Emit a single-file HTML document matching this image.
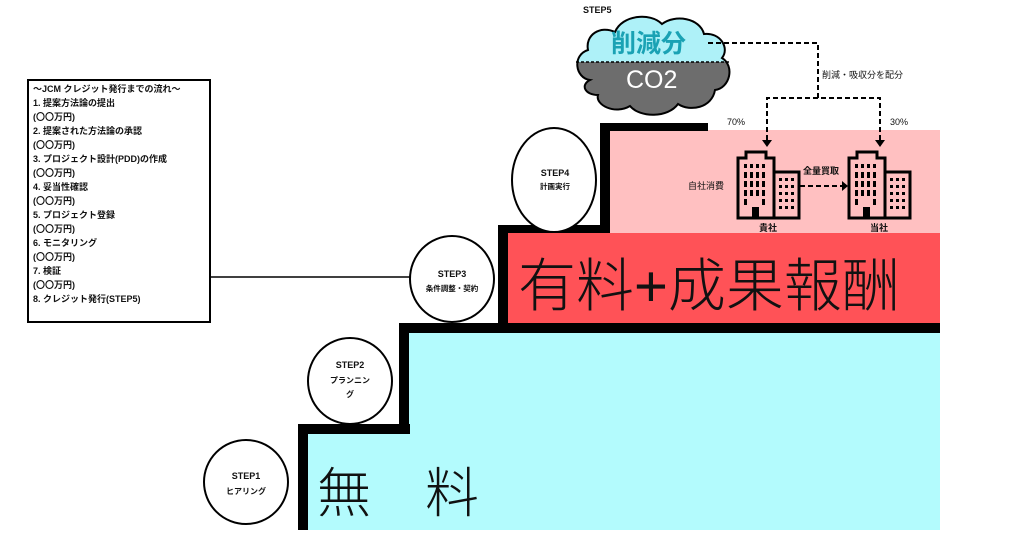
<!DOCTYPE html>
<html><head><meta charset="utf-8"><style>
body{margin:0;background:#fff}
svg{display:block}
text{font-family:"Liberation Sans","Noto Sans CJK JP",sans-serif}
</style></head><body>
<svg width="1024" height="539" viewBox="0 0 1024 539" xmlns="http://www.w3.org/2000/svg">
<defs>
<g id="bld">
 <path d="M0,6 h8 v-6 h20 v6 h8 v60 h-36 z" fill="none" stroke="#000" stroke-width="3"/>
 <rect x="36" y="20" width="25" height="46" fill="none" stroke="#000" stroke-width="3"/>
 <g fill="#000">
  <rect x="6" y="12" width="3" height="4"/><rect x="12" y="12" width="3" height="4"/><rect x="18" y="12" width="3" height="4"/><rect x="24" y="12" width="3" height="4"/>
  <rect x="6" y="20" width="3" height="6"/><rect x="12" y="20" width="3" height="6"/><rect x="18" y="20" width="3" height="6"/><rect x="24" y="20" width="3" height="6"/>
  <rect x="6" y="29" width="3" height="6"/><rect x="12" y="29" width="3" height="6"/><rect x="18" y="29" width="3" height="6"/><rect x="24" y="29" width="3" height="6"/>
  <rect x="6" y="38" width="3" height="6"/><rect x="12" y="38" width="3" height="6"/><rect x="18" y="38" width="3" height="6"/><rect x="24" y="38" width="3" height="6"/>
  <rect x="6" y="47" width="3" height="6"/><rect x="24" y="47" width="3" height="6"/>
  <rect x="14" y="55" width="7" height="11"/>
  <rect x="41" y="26" width="3" height="3"/><rect x="47" y="26" width="3" height="3"/><rect x="53" y="26" width="3" height="3"/>
  <rect x="41" y="33" width="3" height="3"/><rect x="47" y="33" width="3" height="3"/><rect x="53" y="33" width="3" height="3"/>
  <rect x="41" y="40" width="3" height="3"/><rect x="47" y="40" width="3" height="3"/><rect x="53" y="40" width="3" height="3"/>
  <rect x="41" y="47" width="3" height="3"/><rect x="47" y="47" width="3" height="3"/><rect x="53" y="47" width="3" height="3"/>
  <rect x="41" y="54" width="3" height="3"/><rect x="47" y="54" width="3" height="3"/><rect x="53" y="54" width="3" height="3"/>
 </g>
</g>
</defs>
<!-- fills -->
<rect x="409" y="333" width="531" height="197" fill="#b3fbfd"/>
<rect x="308" y="434" width="101" height="96" fill="#b3fbfd"/>
<rect x="508" y="233" width="432" height="91" fill="#ff5257"/>
<rect x="610" y="130" width="330" height="103" fill="#ffc0c1"/>
<!-- stairs -->
<g fill="#000">
<rect x="298" y="424" width="10" height="106"/>
<rect x="298" y="424" width="112" height="10"/>
<rect x="399" y="323" width="10" height="111"/>
<rect x="399" y="323" width="541" height="10"/>
<rect x="498" y="225" width="10" height="108"/>
<rect x="498" y="225" width="112" height="8"/>
<rect x="600" y="123" width="10" height="110"/>
<rect x="600" y="123" width="108" height="8"/>
</g>
<!-- big labels -->
<text x="518" y="306" font-size="58" fill="#111" font-family="'Noto Sans CJK JP',sans-serif" font-weight="300">有料+成果報酬</text>
<text x="317" y="512" font-size="54" fill="#111" font-family="'Noto Sans CJK JP',sans-serif" font-weight="300">無　料</text>
<!-- text box -->
<rect x="28" y="80" width="182" height="242" fill="#fff" stroke="#000" stroke-width="2"/>
<line x1="210" y1="277" x2="410" y2="277" stroke="#000" stroke-width="1.5"/>
<g font-size="9" font-weight="bold" fill="#111">
<text x="33" y="92">～JCM クレジット発行までの流れ～</text>
<text x="33" y="106">1. 提案方法論の提出</text>
<text x="33" y="120">(〇〇万円)</text>
<text x="33" y="134">2. 提案された方法論の承認</text>
<text x="33" y="148">(〇〇万円)</text>
<text x="33" y="162">3. プロジェクト設計(PDD)の作成</text>
<text x="33" y="176">(〇〇万円)</text>
<text x="33" y="190">4. 妥当性確認</text>
<text x="33" y="204">(〇〇万円)</text>
<text x="33" y="218">5. プロジェクト登録</text>
<text x="33" y="232">(〇〇万円)</text>
<text x="33" y="246">6. モニタリング</text>
<text x="33" y="260">(〇〇万円)</text>
<text x="33" y="274">7. 検証</text>
<text x="33" y="288">(〇〇万円)</text>
<text x="33" y="302">8. クレジット発行(STEP5)</text>
</g>
<!-- circles -->
<g fill="#fff" stroke="#000" stroke-width="2">
<ellipse cx="246" cy="482" rx="42" ry="42"/>
<ellipse cx="350" cy="381" rx="42" ry="43"/>
<ellipse cx="452" cy="279" rx="42" ry="43"/>
<ellipse cx="554" cy="180" rx="42" ry="52"/>
</g>
<g font-size="9" font-weight="bold" fill="#111" text-anchor="middle">
<text x="246" y="479">STEP1</text><text x="246" y="494" font-size="8">ヒアリング</text>
<text x="350" y="368">STEP2</text><text x="350" y="383" font-size="8">プランニン</text><text x="350" y="397" font-size="8">グ</text>
<text x="452" y="277">STEP3</text><text x="452" y="291" font-size="7.5">条件調整・契約</text>
<text x="555" y="176">STEP4</text><text x="555" y="189" font-size="7.5">計画実行</text>
</g>
<!-- cloud -->
<defs><clipPath id="cl"><path d="M590,80 C575,78 572,55 588,50 C585,35 600,25 615,32 C622,15 650,12 662,24 C675,14 700,18 704,34 C720,32 730,48 722,58 C735,66 730,88 715,90 C712,108 690,112 678,104 C668,118 640,118 630,106 C615,115 595,105 598,95 C585,95 580,85 590,80 Z"/></clipPath></defs>
<g clip-path="url(#cl)">
<rect x="560" y="0" width="200" height="62" fill="#aef1f8"/>
<rect x="560" y="62" width="200" height="70" fill="#6d6d6d"/>
</g>
<path d="M590,80 C575,78 572,55 588,50 C585,35 600,25 615,32 C622,15 650,12 662,24 C675,14 700,18 704,34 C720,32 730,48 722,58 C735,66 730,88 715,90 C712,108 690,112 678,104 C668,118 640,118 630,106 C615,115 595,105 598,95 C585,95 580,85 590,80 Z" fill="none" stroke="#000" stroke-width="2"/>
<line x1="576" y1="62" x2="730" y2="62" stroke="#000" stroke-width="1.5" stroke-dasharray="3,2"/>
<text x="583" y="13" font-size="9" font-weight="bold" fill="#111">STEP5</text>
<text x="611" y="52" font-size="25" fill="#1aa2b4" font-weight="bold">削減分</text>
<text x="626" y="88" font-size="25" fill="#fff">CO2</text>
<!-- dashed connectors -->
<g fill="none" stroke="#000" stroke-width="2" stroke-dasharray="5,3">
<path d="M708,43 H818 V98"/>
<path d="M767,140 V98 H880 V140"/>
<path d="M800,186 H842"/>
</g>
<g fill="#000">
<path d="M762,140 L772,140 L767,147 Z"/>
<path d="M875,140 L885,140 L880,147 Z"/>
<path d="M842,181 L848,186 L842,191 Z"/>
</g>
<text x="822" y="78" font-size="9" fill="#111">削減・吸収分を配分</text>
<text x="727" y="125" font-size="9" fill="#111">70%</text>
<text x="890" y="125" font-size="9" fill="#111">30%</text>
<use href="#bld" x="738" y="152"/>
<use href="#bld" x="849" y="152"/>
<g font-size="9" font-weight="bold" fill="#111">
<text x="759" y="231">貴社</text>
<text x="870" y="231">当社</text>
<text x="688" y="189" font-weight="normal">自社消費</text>
<text x="803" y="174">全量買取</text>
</g>
</svg>
</body></html>
